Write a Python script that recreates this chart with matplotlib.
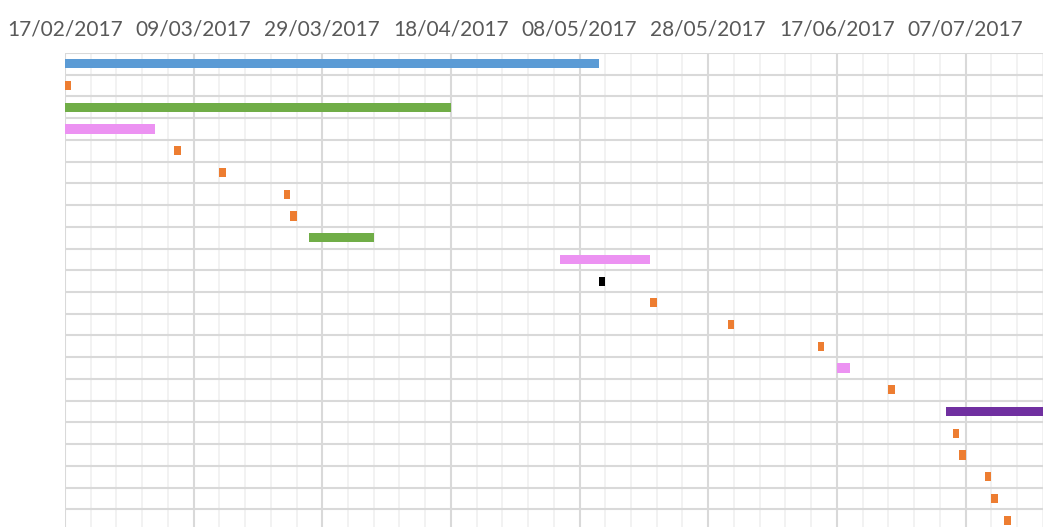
import numpy as np
import pandas as pd
import matplotlib
matplotlib.use("Agg")
import matplotlib.pyplot as plt
import matplotlib.dates as mdates

# task data, top to bottom
starts = ["2017-02-17", "2017-02-17", "2017-02-17", "2017-02-17", "2017-03-06",
          "2017-03-13", "2017-03-23", "2017-03-24", "2017-03-27", "2017-05-05",
          "2017-05-11", "2017-05-19", "2017-05-31", "2017-06-14", "2017-06-17",
          "2017-06-25", "2017-07-04", "2017-07-05", "2017-07-06", "2017-07-10",
          "2017-07-11", "2017-07-13"]
durations = [83, 1, 60, 14, 1, 1, 1, 1, 10, 14, 1, 1, 1, 1, 2, 1, 20, 1, 1, 1, 1, 1]
colors = ["#5B9BD5", "#ED7D31", "#70AD47", "#EC92F2", "#ED7D31", "#ED7D31",
          "#ED7D31", "#ED7D31", "#70AD47", "#EC92F2", "#000000", "#ED7D31",
          "#ED7D31", "#ED7D31", "#EC92F2", "#ED7D31", "#7030A0", "#ED7D31",
          "#ED7D31", "#ED7D31", "#ED7D31", "#ED7D31"]
x_start = "2017-02-17"
x_end = "2017-07-19"

start_num = mdates.date2num(pd.to_datetime(starts))
rows = np.arange(len(starts))

plt.rcParams['font.family'] = ['Lato', 'DejaVu Sans']
fig = plt.figure(figsize=(10.43, 5.27), dpi=100)
ax = fig.add_axes([65 / 1043, 1 - 531 / 527, (1042.7 - 65) / 1043, (531 - 53) / 527])

ax.barh(rows, durations, left=start_num, height=0.42, color=colors, zorder=3)

x0 = mdates.date2num(pd.Timestamp(x_start))
x1 = mdates.date2num(pd.Timestamp(x_end))
ax.set_xlim(x0, x1)
ax.set_ylim(len(starts) - 0.5, -0.5)

major = np.arange(x0, x1 + 0.1, 20)
minor = np.arange(x0, x1 + 0.1, 4)
ax.set_xticks(major)
ax.set_xticks(minor, minor=True)
ax.xaxis.set_major_formatter(mdates.DateFormatter("%d/%m/%Y"))
ax.xaxis.tick_top()
ax.tick_params(axis='x', which='both', length=0, pad=10, labelsize=15, labelcolor="#595959")
ax.set_yticks(np.arange(-0.5, len(starts), 1))
ax.tick_params(axis='y', length=0, labelleft=False)

ax.grid(axis='x', which='major', color="#D9D9D9", linewidth=1.5, zorder=1)
ax.grid(axis='x', which='minor', color="#F0F0F0", linewidth=1.2, zorder=0)
ax.grid(axis='y', which='major', color="#D9D9D9", linewidth=1.5, zorder=1)
for s in ax.spines.values():
    s.set_visible(False)

fig.savefig("out.png", dpi=100)
